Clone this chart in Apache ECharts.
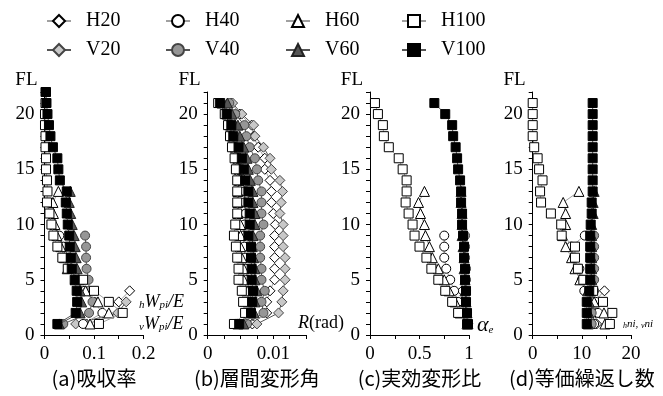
<!DOCTYPE html>
<html lang="ja">
<head>
<meta charset="UTF-8">
<title>吸収率・層間変形角・実効変形比・等価繰返し数</title>
<script src="https://cdn.jsdelivr.net/npm/echarts@6/dist/echarts.min.js"></script>
<style>
    html, body { margin: 0; padding: 0; background: #fff; }
    #chart { width: 663px; height: 396px; }
</style>
</head>
<body>
<div id="chart"></div>
<script>
// 階 (FL), 1階から
const floors = [1, 2, 3, 4, 5, 6, 7, 8, 9, 10, 11, 12, 13, 14, 15, 16, 17, 18, 19, 20, 21, 22];
const seriesNames = ['H20', 'V20', 'H40', 'V40', 'H60', 'V60', 'H100', 'V100'];

// (a) 吸収率 hWpi/E, vWpi/E
const absH20 = [0.085, 0.153, 0.150, 0.172];
const absV20 = [0.063, 0.148, 0.165];
const absH40 = [0.078, 0.117, 0.100, 0.080, 0.065, 0.055, 0.050, 0.038, 0.030];
const absV40 = [0.038, 0.090, 0.097, 0.090, 0.089, 0.085, 0.084, 0.084, 0.082];
const absH60 = [0.092, 0.130, 0.108, 0.083, 0.062, 0.046, 0.040, 0.033, 0.025, 0.021, 0.018, 0.017, 0.028];
const absV60 = [0.030, 0.072, 0.075, 0.072, 0.070, 0.066, 0.064, 0.062, 0.060, 0.056, 0.053, 0.050, 0.052];
const absH100 = [0.110, 0.158, 0.130, 0.100, 0.078, 0.047, 0.036, 0.026, 0.018, 0.014, 0.010, 0.005, 0.006, 0.005, 0.003, 0.003, 0.002, 0.002, 0.001, 0.001, 0.002, 0.002];
const absV100 = [0.026, 0.063, 0.066, 0.065, 0.061, 0.055, 0.053, 0.051, 0.050, 0.047, 0.045, 0.043, 0.045, 0.031, 0.028, 0.026, 0.017, 0.012, 0.009, 0.006, 0.004, 0.003];

// (b) 層間変形角 R(rad)
const driftH20 = [0.0068, 0.0090, 0.0090, 0.0095, 0.0102, 0.0102, 0.0102, 0.0102, 0.0102, 0.0103, 0.0100, 0.0097, 0.0097, 0.0095, 0.0087, 0.0087, 0.0077, 0.0070, 0.0067, 0.0049, 0.0036];
const driftV20 = [0.0075, 0.0108, 0.0113, 0.0115, 0.0118, 0.0118, 0.0118, 0.0115, 0.0115, 0.0115, 0.0110, 0.0112, 0.0114, 0.0110, 0.0097, 0.0095, 0.0085, 0.0072, 0.0070, 0.0052, 0.0038];
const driftH40 = [0.0050, 0.0066, 0.0066, 0.0064, 0.0060, 0.0058, 0.0057, 0.0056, 0.0054, 0.0056, 0.0058, 0.0056, 0.0056, 0.0052, 0.0050, 0.0048, 0.0043, 0.0036, 0.0033, 0.0027, 0.0018];
const driftV40 = [0.0060, 0.0085, 0.0082, 0.0087, 0.0082, 0.0082, 0.0080, 0.0080, 0.0080, 0.0085, 0.0082, 0.0082, 0.0082, 0.0077, 0.0075, 0.0072, 0.0064, 0.0059, 0.0056, 0.0042, 0.0033];
const driftH60 = [0.0046, 0.0064, 0.0062, 0.0060, 0.0055, 0.0055, 0.0052, 0.0050, 0.0050, 0.0050, 0.0046, 0.0046, 0.0046, 0.0048, 0.0048, 0.0046, 0.0042, 0.0038, 0.0035, 0.0030, 0.0022];
const driftV60 = [0.0055, 0.0071, 0.0072, 0.0075, 0.0072, 0.0072, 0.0070, 0.0068, 0.0069, 0.0072, 0.0072, 0.0069, 0.0069, 0.0065, 0.0062, 0.0060, 0.0055, 0.0049, 0.0046, 0.0037, 0.0030];
const driftH100 = [0.0040, 0.0057, 0.0054, 0.0052, 0.0047, 0.0047, 0.0045, 0.0043, 0.0040, 0.0042, 0.0045, 0.0045, 0.0045, 0.0045, 0.0043, 0.0041, 0.0037, 0.0034, 0.0031, 0.0026, 0.0016];
const driftV100 = [0.0048, 0.0066, 0.0068, 0.0069, 0.0067, 0.0067, 0.0066, 0.0066, 0.0062, 0.0064, 0.0064, 0.0062, 0.0062, 0.0057, 0.0055, 0.0052, 0.0047, 0.0039, 0.0036, 0.0029, 0.0019];

// (c) 実効変形比 αe
const alphaH20 = [0.99, 0.95, 0.93, 0.93];
const alphaV20 = [0.99, 0.97, 0.96];
const alphaH40 = [0.98, 0.94, 0.89, 0.85, 0.81, 0.77, 0.75, 0.75, 0.75];
const alphaV40 = [0.99, 0.98, 0.97, 0.97, 0.97, 0.97, 0.96, 0.96, 0.96];
const alphaH60 = [0.98, 0.91, 0.86, 0.80, 0.75, 0.69, 0.63, 0.60, 0.56, 0.55, 0.51, 0.49, 0.55];
const alphaV60 = [0.99, 0.98, 0.97, 0.96, 0.96, 0.95, 0.95, 0.94, 0.93, 0.93, 0.93, 0.92, 0.92];
const alphaH100 = [0.98, 0.89, 0.83, 0.76, 0.69, 0.62, 0.57, 0.50, 0.45, 0.43, 0.39, 0.36, 0.37, 0.37, 0.33, 0.29, 0.19, 0.14, 0.13, 0.08, 0.05];
const alphaV100 = [0.99, 0.98, 0.97, 0.97, 0.96, 0.96, 0.95, 0.95, 0.94, 0.93, 0.93, 0.92, 0.92, 0.91, 0.89, 0.88, 0.865, 0.84, 0.83, 0.76, 0.65];

// (d) 等価繰返し数 hni, vni
const cycH20 = [13.0, 12.8, 12.5, 14.6];
const cycV20 = [12.5, 12.3, 12.2];
const cycH40 = [12.5, 13.3, 12.8, 10.5, 10.0, 9.5, 8.4, 7.8, 10.6];
const cycV40 = [12.0, 12.0, 12.0, 12.5, 12.5, 12.5, 12.5, 12.5, 12.5];
const cycH60 = [14.7, 14.5, 12.5, 11.2, 9.6, 8.6, 7.9, 6.7, 6.1, 6.7, 6.7, 6.2, 9.4];
const cycV60 = [11.3, 11.4, 11.5, 11.8, 12.0, 12.0, 12.0, 12.0, 12.0, 12.0, 12.3, 12.3, 12.5];
const cycH100 = [15.7, 16.2, 14.3, 12.3, 10.3, 9.2, 8.6, 8.6, 5.9, 5.8, 3.7, 1.7, 1.5, 2.0, 1.3, 1.0, 0.3, 0, 0, 0, 0];
const cycV100 = [11.0, 11.0, 11.0, 11.5, 11.7, 11.7, 11.7, 11.7, 11.7, 11.8, 12.0, 12.0, 12.2, 12.2, 12.2, 12.2, 12.2, 12.2, 12.2, 12.2, 12.2];

const panels = [
    { title: '(a)吸収率', max: 0.2, step: 0.05, labels: [0, 0.1, 0.2], left: 44.5, width: 99,
      data: [absH20, absV20, absH40, absV40, absH60, absV60, absH100, absV100] },
    { title: '(b)層間変形角', max: 0.015, step: 0.0025, labels: [0, 0.01], left: 207.7, width: 98.4,
      data: [driftH20, driftV20, driftH40, driftV40, driftH60, driftV60, driftH100, driftV100] },
    { title: '(c)実効変形比', max: 1, step: 0.25, labels: [0, 0.5, 1], left: 370, width: 99,
      data: [alphaH20, alphaV20, alphaH40, alphaV40, alphaH60, alphaV60, alphaH100, alphaV100] },
    { title: '(d)等価繰返し数', max: 20, step: 5, labels: [0, 10, 20], left: 532.7, width: 98.3,
      data: [cycH20, cycV20, cycH40, cycV40, cycH60, cycV60, cycH100, cycV100] }
];

// マーカーの見た目
const marks = {
    H20:  { symbol: 'diamond',  size: 10, fill: '#fff',    edge: '#000', line: '#a0a0a0' },
    V20:  { symbol: 'diamond',  size: 10, fill: '#c8c8c8', edge: '#444', line: '#555' },
    H40:  { symbol: 'circle',   size: 9,  fill: '#fff',    edge: '#000', line: '#a0a0a0' },
    V40:  { symbol: 'circle',   size: 9,  fill: '#969696', edge: '#444', line: '#555' },
    H60:  { symbol: 'triangle', size: 10, fill: '#fff',    edge: '#000', line: '#a0a0a0' },
    V60:  { symbol: 'triangle', size: 10, fill: '#555',    edge: '#222', line: '#555' },
    H100: { symbol: 'rect',     size: 9,  fill: '#fff',    edge: '#000', line: '#a0a0a0' },
    V100: { symbol: 'rect',     size: 9,  fill: '#000',    edge: '#000', line: '#555' }
};

const serif = "'Liberation Serif', 'Times New Roman', serif";
const near = (a, b) => Math.abs(a - b) < 1e-9;

const grids = [], xAxes = [], yAxes = [], series = [];
panels.forEach((p, k) => {
    grids.push({ left: p.left, top: 92, width: p.width, height: 243 });
    xAxes.push({
        type: 'value', gridIndex: k, min: 0, max: p.max, interval: p.step,
        name: p.title, nameLocation: 'middle', nameGap: 33,
        nameTextStyle: { fontFamily: "'Noto Sans CJK JP', sans-serif", fontSize: 20, color: '#000' },
        axisLine: { lineStyle: { color: '#000', width: 1 } },
        axisTick: { length: 4, lineStyle: { color: '#000' } },
        splitLine: { show: false },
        axisLabel: {
            fontFamily: serif, fontSize: 19, color: '#000', margin: 10,
            formatter: v => p.labels.some(l => near(l, v)) ? String(+v.toFixed(4)) : ''
        }
    });
    yAxes.push({
        type: 'value', gridIndex: k, min: 0, max: 22, interval: 1,
        name: 'FL', nameLocation: 'end', nameGap: 2,
        nameTextStyle: { fontFamily: serif, fontSize: 19, color: '#000', align: 'right', verticalAlign: 'bottom', padding: [0, 7, 0, 0] },
        axisLine: { lineStyle: { color: '#000', width: 1 } },
        axisTick: { length: 4, lineStyle: { color: '#000' } },
        splitLine: { show: false },
        axisLabel: {
            fontFamily: serif, fontSize: 19, color: '#000', margin: 10,
            formatter: v => (v % 5 === 0 && v <= 20) ? String(v) : ''
        }
    });
    seriesNames.forEach((name, i) => {
        const m = marks[name];
        series.push({
            name: name, type: 'line', xAxisIndex: k, yAxisIndex: k,
            data: p.data[i].map((x, j) => [x, floors[j]]),
            symbol: m.symbol, symbolSize: m.size,
            itemStyle: { color: m.fill, borderColor: m.edge, borderWidth: 1, opacity: 1 },
            lineStyle: { color: m.line, width: 1 },
            emphasis: { disabled: true },
            z: 2 + i
        });
    });
});

// 凡例: 上段 H, 下段 V
const legendLeft = [41, 160, 280, 396];
const legends = seriesNames.map((name, i) => ({
    data: [name],
    left: legendLeft[Math.floor(i / 2)],
    top: i % 2 === 0 ? 6 : 35,
    itemWidth: 24, itemHeight: 15,
    textStyle: { fontFamily: serif, fontSize: 20, color: '#000', padding: [0, 0, 0, 10] },
    selectedMode: false
}));

const it = { fontFamily: serif, fontStyle: 'italic', color: '#000' };
const chart = echarts.init(document.getElementById('chart'), null, { renderer: 'canvas' });
chart.setOption({
    animation: false,
    backgroundColor: '#fff',
    legend: legends,
    grid: grids, xAxis: xAxes, yAxis: yAxes, series: series,
    graphic: [
        { type: 'text', x: 139, y: 302, style: { text: '{s|h}{b|W}{s|pi}{b|/E}', verticalAlign: 'middle',
            rich: { s: Object.assign({ fontSize: 11, verticalAlign: 'bottom', padding: [6, 0, 0, 0] }, it), b: Object.assign({ fontSize: 18 }, it) } } },
        { type: 'text', x: 139, y: 324, style: { text: '{s|v}{b|W}{s|pi}{b|/E}', verticalAlign: 'middle',
            rich: { s: Object.assign({ fontSize: 11, verticalAlign: 'bottom', padding: [6, 0, 0, 0] }, it), b: Object.assign({ fontSize: 18 }, it) } } },
        { type: 'text', x: 298, y: 323, style: { text: '{b|R}{n|(rad)}', verticalAlign: 'middle',
            rich: { b: Object.assign({ fontSize: 18 }, it), n: { fontFamily: serif, fontSize: 18, color: '#000' } } } },
        { type: 'text', x: 477, y: 325, style: { text: '{b|α}{s|e}', verticalAlign: 'middle',
            rich: { b: Object.assign({ fontSize: 22 }, it), s: Object.assign({ fontSize: 11, verticalAlign: 'bottom', padding: [8, 0, 0, 0] }, it) } } },
        { type: 'text', x: 623, y: 324, style: { text: '{s|h}{b|ni}{b|, }{s|v}{b|ni}', verticalAlign: 'middle',
            rich: { s: Object.assign({ fontSize: 8, verticalAlign: 'bottom', padding: [3, 0, 0, 0] }, it), b: Object.assign({ fontSize: 11 }, it) } } }
    ]
});
</script>
</body>
</html>
